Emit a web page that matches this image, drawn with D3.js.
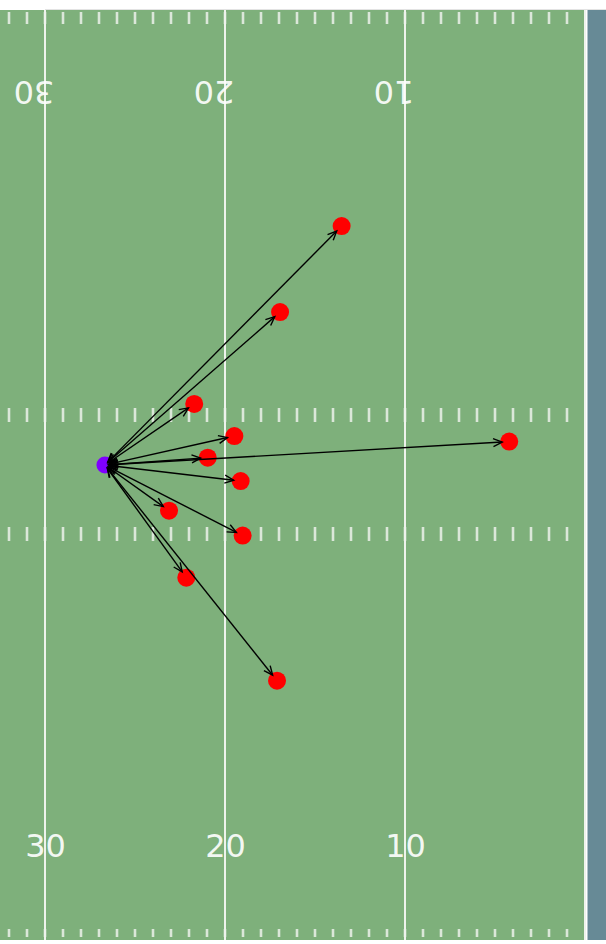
<!DOCTYPE html>
<html>
<head>
<meta charset="utf-8">
<script src="https://cdn.jsdelivr.net/npm/d3@7"></script>
<style>
  html, body { margin: 0; padding: 0; background: #ffffff; }
  svg { display: block; }
</style>
</head>
<body>
<div id="chart"></div>
<script>
// ---- Data (yards) ----
// x: yards from goal line, y: yards across the field (0 = bottom sideline)
const yardLines = [30, 20, 10, 0];
const yardLabels = ["30", "20", "10"];
const yardLabelPos = [30, 20, 10];
const origin = { x: 26.67, y: 27.24 };
const targetX = [13.52, 16.94, 21.71, 19.48, 20.96, 4.21, 19.13, 23.11, 19.02, 22.15, 17.11];
const targetY = [40.94, 36.01, 30.74, 28.90, 27.66, 28.58, 26.32, 24.62, 23.19, 20.78, 14.87];
const hashYards = d3.range(1, 33);

// ---- Layout ----
const W = 606, H = 944;
const svg = d3.select("#chart").append("svg").attr("width", W).attr("height", H);

const x = d3.scaleLinear().domain([0, 32.5]).range([585, 0]);
const y = d3.scaleLinear().domain([0, 53.33]).range([940, 10]);

const fieldColor = "#7eb07b";
const endZoneColor = "#678a96";
const lineColor = "#eef3ec";
const hashColor = "#dbe7d9";

// field
svg.append("rect").attr("x", 0).attr("y", y(53.33)).attr("width", x(0)).attr("height", y(0) - y(53.33))
  .attr("fill", fieldColor);
// end zone
svg.append("rect").attr("x", x(0) + 2.5).attr("y", y(53.33)).attr("width", W - x(0) - 2.5).attr("height", y(0) - y(53.33))
  .attr("fill", endZoneColor);
// top border
svg.append("line").attr("x1", x(30)).attr("x2", W).attr("y1", y(53.33) - 0.5).attr("y2", y(53.33) - 0.5)
  .attr("stroke", "#e3e3e3").attr("stroke-width", 1);

// hash marks
const hashRows = [
  [y(53.33) + 2, y(53.33) + 14],
  [408, 422],
  [527, 541],
  [929, 937]
];
const hashG = svg.append("g");
hashRows.forEach(r => {
  hashG.selectAll(null).data(hashYards).join("line")
    .attr("x1", d => x(d)).attr("x2", d => x(d))
    .attr("y1", r[0]).attr("y2", r[1])
    .attr("stroke", hashColor).attr("stroke-width", 2.6);
});

// yard lines
svg.append("g").selectAll("line").data(yardLines).join("line")
  .attr("x1", d => x(d)).attr("x2", d => x(d))
  .attr("y1", y(53.33)).attr("y2", y(0))
  .attr("stroke", lineColor).attr("stroke-width", 2);

// yard numbers
const fontFam = "'DejaVu Sans', sans-serif";
svg.append("g").selectAll("text").data(yardLabels).join("text")
  .attr("x", (d, i) => x(yardLabelPos[i]) + 0.5)
  .attr("y", 857)
  .attr("text-anchor", "middle")
  .attr("font-family", fontFam).attr("font-size", 32)
  .attr("fill", "#ffffff").attr("fill-opacity", 0.92)
  .text(d => d);
svg.append("g").selectAll("text").data(yardLabels).join("text")
  .attr("transform", (d, i) => `translate(${x(yardLabelPos[i]) - 11},81) rotate(180)`)
  .attr("text-anchor", "middle")
  .attr("font-family", fontFam).attr("font-size", 32)
  .attr("fill", "#ffffff").attr("fill-opacity", 0.92)
  .text(d => d);

// points
const targets = targetX.map((tx, i) => ({ x: tx, y: targetY[i] }));
svg.append("g").selectAll("circle").data(targets).join("circle")
  .attr("cx", d => x(d.x)).attr("cy", d => y(d.y)).attr("r", 9)
  .attr("fill", "#ff0000");
svg.append("circle").attr("cx", x(origin.x)).attr("cy", y(origin.y)).attr("r", 8.5)
  .attr("fill", "#7f00ff");

// arrows
const ox = x(origin.x), oy = y(origin.y);
const headL = 9, headW = 4;
function chevron(tipX, tipY, ux, uy) {
  // ux,uy: unit vector pointing in direction of the tip
  const bx = tipX - ux * headL, by = tipY - uy * headL;
  const px = -uy, py = ux;
  return `M${bx + px * headW},${by + py * headW}L${tipX},${tipY}L${bx - px * headW},${by - py * headW}`;
}
const arrowG = svg.append("g").attr("fill", "none").attr("stroke", "#000").attr("stroke-width", 1.4)
  .attr("stroke-linejoin", "miter");
targets.forEach(t => {
  const tx = x(t.x), ty = y(t.y);
  const dx = tx - ox, dy = ty - oy;
  const len = Math.hypot(dx, dy);
  const ux = dx / len, uy = dy / len;
  const sx = ox + ux * 4, sy = oy + uy * 4;
  const ex = tx - ux * 7, ey = ty - uy * 7;
  arrowG.append("path").attr("d", `M${sx},${sy}L${ex},${ey}`);
  arrowG.append("path").attr("d", chevron(ex, ey, ux, uy));
  arrowG.append("path").attr("d", chevron(sx, sy, -ux, -uy));
});
</script>
</body>
</html>
